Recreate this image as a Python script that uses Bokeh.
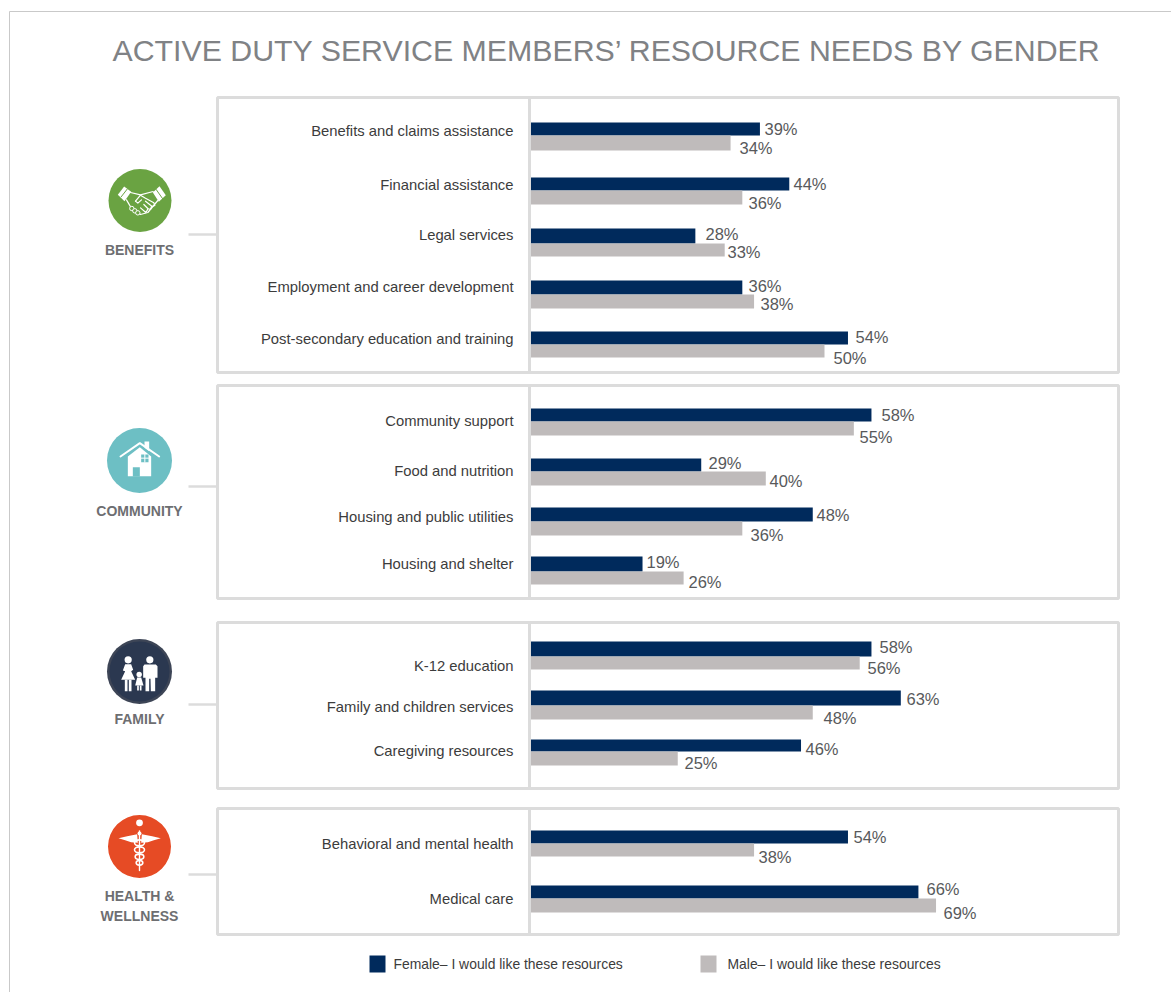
from bokeh.plotting import figure
from bokeh.models import Range1d
from bokeh.core.properties import value
from bokeh.embed import file_html
from bokeh.resources import INLINE

# ---- data ----
categories = ["Benefits and claims assistance", "Financial assistance", "Legal services",
              "Employment and career development", "Post-secondary education and training",
              "Community support", "Food and nutrition", "Housing and public utilities",
              "Housing and shelter", "K-12 education", "Family and children services",
              "Caregiving resources", "Behavioral and mental health", "Medical care"]
female = [39, 44, 28, 36, 54, 58, 29, 48, 19, 58, 63, 46, 54, 66]
male = [34, 36, 33, 38, 50, 55, 40, 36, 26, 56, 48, 25, 38, 69]
groups = ["BENEFITS", "COMMUNITY", "FAMILY", "HEALTH &", "WELLNESS"]
title = "ACTIVE DUTY SERVICE MEMBERS\u2019 RESOURCE NEEDS BY GENDER"
legend_labels = ["Female\u2013 I would like these resources", "Male\u2013 I would like these resources"]

# ---- layout (page pixels) ----
F_TOP = [122, 177, 228, 280, 331, 408, 458, 507, 556, 641, 690, 739, 830, 885]
MID = [135, 190, 243, 294, 344, 421, 471, 521, 571, 656, 705, 751, 843, 898]
M_BOT = [150, 204, 256, 308, 357, 435, 485, 535, 584, 669, 719, 765, 856, 912]
CAT_Y = [130, 184, 234, 286, 338, 420, 470, 516, 563, 665, 706, 750, 843, 898]
F_LX = [764, 793, 705, 748, 855, 881, 708, 816, 646, 879, 906, 805, 853, 926]
F_LY = [128, 183, 233, 285, 336, 414, 462, 514, 561, 646, 698, 748, 836, 888]
M_LX = [739, 748, 727, 760, 833, 859, 769, 750, 688, 867, 823, 684, 758, 943]
M_LY = [147, 202, 251, 303, 357, 436, 480, 534, 581, 667, 717, 762, 856, 912]
PANELS = [(97, 372), (385, 598), (622, 788), (808, 934)]
CONN_Y = [234, 486, 704, 874]
GROUP_Y = [249, 510, 718, 895, 915]

NAVY, GREY = "#002a5c", "#bfbbbb"
W, H = 1171, 992
X0, PX = 530.5, 5.87

p = figure(width=W, height=H, output_backend="svg", toolbar_location=None,
           x_range=Range1d((0 - X0) / PX, (W - X0) / PX), y_range=Range1d(H, 0),
           x_axis_location=None, y_axis_location=None, min_border=0,
           background_fill_color="white", border_fill_color="white", outline_line_color=None)
p.grid.visible = False
p.extra_x_ranges["px"] = Range1d(0, W)
PXR = dict(x_range_name="px")
SANS = value("Liberation Sans")

# outer frame
p.line([9, 9], [992, 11], line_color="#c9c9c9", line_width=1, **PXR)
p.line([9, 1171], [11, 11], line_color="#c9c9c9", line_width=1, **PXR)

# panels
for top, bot in PANELS:
    p.quad(left=217, right=1118, top=top, bottom=bot, fill_color=None,
           line_color="#dcdcdc", line_width=3, **PXR)
    p.line([529, 529], [top, bot], line_color="#dcdcdc", line_width=3, **PXR)
for y in CONN_Y:
    p.line([188, 217], [y, y], line_color="#dcdcdc", line_width=2.5, **PXR)

# bars
p.quad(left=0, right=female, top=F_TOP, bottom=MID, fill_color=NAVY, line_color=None)
p.quad(left=0, right=male, top=MID, bottom=M_BOT, fill_color=GREY, line_color=None)

# texts
p.text(x=[112], y=[50], text=[title], text_font=SANS, text_font_size="30.3px",
       text_color="#808285", text_baseline="middle", **PXR)
p.text(x=[513] * len(categories), y=CAT_Y, text=categories, text_font=SANS,
       text_font_size="14.8px", text_color="#3c3c3c", text_align="right", text_baseline="middle", **PXR)
p.text(x=F_LX, y=F_LY, text=[f"{v}%" for v in female], text_font=SANS, text_font_size="16.5px",
       text_color="#58595b", text_baseline="middle", **PXR)
p.text(x=M_LX, y=M_LY, text=[f"{v}%" for v in male], text_font=SANS, text_font_size="16.5px",
       text_color="#58595b", text_baseline="middle", **PXR)
p.text(x=[139] * len(groups), y=GROUP_Y, text=groups, text_font=SANS, text_font_size="14px",
       text_font_style="bold", text_color="#6d6e71", text_align="center", text_baseline="middle", **PXR)

# legend
p.quad(left=[369, 700], right=[385, 716], top=[955, 955], bottom=[972, 972],
       fill_color=[NAVY, GREY], line_color=None, **PXR)
p.text(x=[393, 727], y=[963.5, 963.5], text=legend_labels, text_font=SANS, text_font_size="13.9px",
       text_color="#3c3c3c", text_baseline="middle", **PXR)


# ---- icons ----
def zmap(ox, oy):
    return lambda pts: ([ox + a / 3 for a, b in pts], [oy + b / 3 for a, b in pts])


def patch(z, pts, color="white"):
    xs, ys = z(pts)
    p.patch(xs, ys, fill_color=color, line_color=None, **PXR)


def line(z, pts, w=1.2, color="white"):
    xs, ys = z(pts)
    p.line(xs, ys, line_color=color, line_width=w, line_cap="round", line_join="round", **PXR)


def disc(x, y, r, color="white", **kw):
    p.circle(x=[x], y=[y], radius=r, radius_units="screen", fill_color=color, line_color=None, **PXR)


# benefits: handshake
GREEN = "#6aa342"
disc(139.5, 200, 31.5, GREEN)
z = zmap(90, 150)
patch(z, [(82, 133), (101, 108), (122, 124), (102, 152)])
patch(z, [(187, 126), (207, 107), (226, 134), (205, 154)])
line(z, [(92, 139), (110, 116)], w=1, color=GREEN)
line(z, [(197, 117), (216, 144)], w=1, color=GREEN)
line(z, [(120, 126), (150, 133), (188, 123)])
line(z, [(108, 148), (122, 172), (150, 192), (172, 186), (202, 150)])
line(z, [(135, 152), (150, 134), (165, 143), (190, 157), (193, 165), (185, 168), (165, 152)])
line(z, [(135, 152), (142, 158), (153, 148)])
line(z, [(183, 168), (180, 177), (172, 174), (160, 162)])
line(z, [(172, 176), (166, 186), (150, 172)])
for cx, cy in [(124, 174), (133, 181), (142, 187)]:
    xs, ys = z([(cx, cy)])
    p.circle(x=xs, y=ys, radius=2.2, radius_units="screen", fill_color=GREEN, line_color="white", line_width=1, **PXR)

# community: house
TEAL = "#6dbfc4"
disc(139, 460, 32.5, TEAL)
z = zmap(90, 420)
patch(z, [(162, 63), (176, 63), (176, 92), (162, 82)])
patch(z, [(112, 108), (148, 80), (182, 108), (182, 167), (112, 167)])
line(z, [(90, 108), (148, 68), (206, 108)], w=2)
patch(z, [(127, 140), (148, 140), (148, 168), (127, 168)], TEAL)
patch(z, [(152, 102), (174, 102), (174, 125), (152, 125)], TEAL)
line(z, [(163, 102), (163, 125)], w=1)
line(z, [(152, 113), (174, 113)], w=1)

# family
disc(139, 671, 32.5, "#3d4556")
disc(139, 671, 30, "#2b3850")
z = zmap(90, 630)
xs, ys = z([(113, 88), (178, 88), (146, 132)])
disc(xs[0], ys[0], 3.6)
disc(xs[1], ys[1], 3.6)
disc(xs[2], ys[2], 2.7)
patch(z, [(104, 101), (122, 101), (128, 118), (122, 122), (134, 148), (92, 148), (104, 122), (97, 120)])
patch(z, [(103, 148), (111, 148), (111, 182), (103, 182)])
patch(z, [(115, 148), (123, 148), (123, 182), (115, 182)])
patch(z, [(162, 102), (196, 102), (201, 107), (201, 142), (194, 142), (194, 182), (181, 182),
          (180, 145), (176, 145), (176, 182), (165, 182), (165, 142), (158, 142), (158, 107)])
patch(z, [(140, 141), (152, 141), (159, 165), (134, 165)])
patch(z, [(140, 165), (145, 165), (145, 180), (140, 180)])
patch(z, [(148, 165), (153, 165), (153, 180), (148, 180)])

# health: caduceus
ORANGE = "#e64b25"
disc(139, 846, 31.5, ORANGE)
z = zmap(90, 805)
xs, ys = z([(147, 52)])
disc(xs[0], ys[0], 3.4)
patch(z, [(84, 98), (110, 92), (140, 86), (142, 112), (122, 110), (104, 104)])
patch(z, [(211, 98), (185, 92), (154, 86), (152, 112), (172, 110), (190, 104)])
line(z, [(147, 76), (147, 195)], w=1.4)
for cy, rw, rh in [(112, 15, 9), (133, 15, 9), (154, 13, 8), (172, 10, 7)]:
    xs, ys = z([(147, cy)])
    p.ellipse(x=xs, y=ys, width=rw * 2 / 3, height=rh * 2 / 3, fill_color=None,
              line_color="white", line_width=1.6, **PXR)
xs, ys = z([(147, 84)])
disc(xs[0], ys[0], 2)

open("out.html", "w").write(file_html(p, INLINE))
